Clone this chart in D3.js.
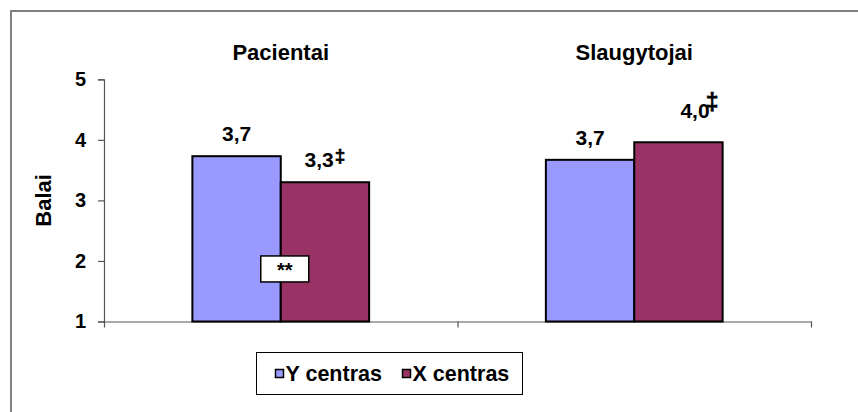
<!DOCTYPE html>
<html>
<head>
<meta charset="utf-8">
<script src="https://cdn.jsdelivr.net/npm/d3@7"></script>
<style>
  html, body { margin: 0; padding: 0; background: #fff; }
  svg { display: block; font-family: Arial, "Liberation Sans", sans-serif; font-weight: bold; }
</style>
</head>
<body>
<svg id="chart" width="858" height="412"></svg>
<script>
const categories = ["Pacientai", "Slaugytojai"];
const seriesNames = ["Y centras", "X centras"];
const seriesColors = ["#9999FF", "#993366"];
const valuesY = [3.73, 3.67];
const valuesX = [3.30, 3.96];
const markers = [["", "‡"], ["", "‡"]];
const yTicks = [1, 2, 3, 4, 5];
const axisTitle = "Balai";
const significanceText = "**";

const svg = d3.select("#chart");

// outer frame (top & left edges)
svg.append("path")
  .attr("d", "M11,412 L11,11 L858,11")
  .attr("fill", "none").attr("stroke", "#808080").attr("stroke-width", 2);

const plot = { left: 104, right: 811, top: 79.3, bottom: 321.5 };

const x0 = d3.scaleBand().domain(categories).range([plot.left, plot.right]).paddingInner(0).paddingOuter(0);
const x1 = d3.scaleBand().domain(seriesNames).range([0, x0.bandwidth()]).paddingInner(0).paddingOuter(1);
const y = d3.scaleLinear().domain([1, 5]).range([plot.bottom, plot.top]);

const fmt = v => d3.format(".1f")(v).replace(".", ",");

const data = categories.map((c, i) => ({
  cat: c,
  items: [
    { s: seriesNames[0], v: valuesY[i], color: seriesColors[0], mark: markers[i][0] },
    { s: seriesNames[1], v: valuesX[i], color: seriesColors[1], mark: markers[i][1] }
  ]
}));

// y axis
const yAxis = d3.axisLeft(y).tickValues(yTicks).tickSize(6).tickFormat(d3.format("d"));
const gy = svg.append("g").attr("transform", `translate(${plot.left},0)`).call(yAxis);
gy.select(".domain").attr("stroke", "#555").attr("stroke-width", 1.2);
gy.selectAll(".tick line").attr("stroke", "#555").attr("stroke-width", 1.2);
gy.selectAll(".tick text").attr("font-size", 20).attr("font-weight", "bold")
  .attr("fill", "#000").attr("x", -18).attr("font-family", "Arial, 'Liberation Sans', sans-serif");

// x axis (no labels, ticks at category boundaries)
const xb = d3.scaleLinear().domain([0, categories.length]).range([plot.left, plot.right]);
const xAxis = d3.axisBottom(xb).tickValues(d3.range(categories.length + 1))
  .tickSize(6).tickSizeOuter(0).tickFormat("");
const gx = svg.append("g").attr("transform", `translate(0,${plot.bottom})`).call(xAxis);
gx.select(".domain").attr("stroke", "#555").attr("stroke-width", 1.2);
gx.selectAll(".tick line").attr("stroke", "#555").attr("stroke-width", 1.2);

// category titles
svg.selectAll(".cat-title").data(categories).enter().append("text")
  .attr("class", "cat-title")
  .attr("x", d => x0(d) + x0.bandwidth() / 2)
  .attr("y", 60)
  .attr("text-anchor", "middle")
  .attr("font-size", 22)
  .attr("fill", "#000")
  .text(d => d);

// bars
const groups = svg.selectAll(".grp").data(data).enter().append("g")
  .attr("class", "grp")
  .attr("transform", d => `translate(${x0(d.cat)},0)`);

groups.selectAll("rect").data(d => d.items).enter().append("rect")
  .attr("x", d => x1(d.s))
  .attr("y", d => y(d.v))
  .attr("width", x1.bandwidth())
  .attr("height", d => y(1) - y(d.v))
  .attr("fill", d => d.color)
  .attr("stroke", "#000")
  .attr("stroke-width", 2);

// value labels (the raised label on the tallest bar is placed like the original: starting near bar centre)
groups.selectAll(".val").data(d => d.items).enter().append("text")
  .attr("class", "val")
  .attr("x", d => x1(d.s) + x1.bandwidth() / 2 + (d.v >= 3.9 ? 2 : 0))
  .attr("y", d => y(d.v) - (d.v >= 3.9 ? 24 : 15))
  .attr("text-anchor", d => d.v >= 3.9 ? "start" : "middle")
  .attr("font-size", 21)
  .attr("fill", "#000")
  .each(function (d) {
    const t = d3.select(this);
    t.append("tspan").text(fmt(d.v));
    if (d.mark) {
      const big = d.v >= 3.9;
      t.append("tspan")
        .attr("font-size", big ? 23 : 19)
        .attr("font-weight", "bold")
        .attr("stroke", "#000").attr("stroke-width", 0.6)
        .attr("dx", big ? -4 : 1)
        .attr("dy", big ? -8 : -5)
        .text(d.mark);
    }
  });

// significance box (between Pacientai bars)
const pc = x0(categories[0]) + x1(seriesNames[1]);
const boxW = 48, boxH = 26;
const boxTop = y(2) - 5;
svg.append("rect")
  .attr("x", pc - 20).attr("y", boxTop)
  .attr("width", boxW).attr("height", boxH)
  .attr("fill", "#fff").attr("stroke", "#000").attr("stroke-width", 1.5);
svg.append("text")
  .attr("x", pc - 20 + boxW / 2).attr("y", boxTop + 21)
  .attr("text-anchor", "middle").attr("font-size", 20).attr("fill", "#000")
  .text(significanceText);

// y axis title
svg.append("text")
  .attr("transform", `translate(51,${(plot.top + plot.bottom) / 2}) rotate(-90)`)
  .attr("text-anchor", "middle")
  .attr("font-size", 22)
  .attr("fill", "#000")
  .text(axisTitle);

// legend
const lg = svg.append("g").attr("transform", "translate(256.5,352.5)");
lg.append("rect").attr("width", 266).attr("height", 42)
  .attr("fill", "#fff").attr("stroke", "#000").attr("stroke-width", 1);
const legX = [19, 146];
seriesNames.forEach((s, i) => {
  lg.append("rect").attr("x", legX[i]).attr("y", 17).attr("width", 8).attr("height", 8)
    .attr("fill", seriesColors[i]).attr("stroke", "#000").attr("stroke-width", 1.5);
  lg.append("text").attr("x", legX[i] + 10).attr("y", 28.5)
    .attr("font-size", 21.5).attr("fill", "#000").text(s);
});
</script>
</body>
</html>
